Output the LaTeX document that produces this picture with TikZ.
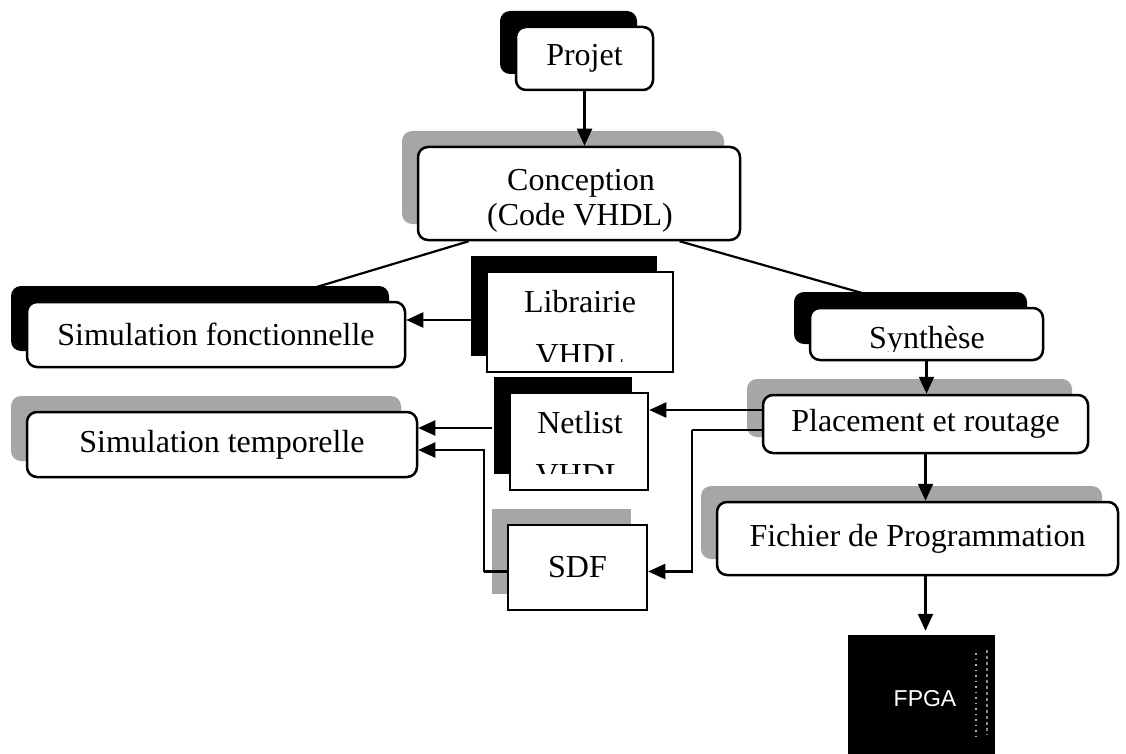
\documentclass[tikz,border=0pt]{standalone}
\usepackage{fontspec}
\setmainfont{Liberation Serif}
\newfontfamily\fpgafont{Liberation Sans}
\usetikzlibrary{arrows.meta,shadows,calc}
\begin{document}
\begin{tikzpicture}[x=1pt,y=-1pt,
  txt/.style={font=\fontsize{32}{36}\selectfont},
  rbox/.style={draw=black, line width=2.5pt, rounded corners=10pt, fill=white, inner sep=0pt, txt},
  sbox/.style={draw=black, line width=2.5pt, fill=white, inner sep=0pt, txt},
  bshadow/.style={drop shadow={shadow xshift=-16pt, shadow yshift=16pt, fill=black, opacity=1, draw=none}},
  gshadow/.style={drop shadow={shadow xshift=-16pt, shadow yshift=16pt, fill=black!35, opacity=1, draw=none}},
  conn/.style={line width=2.2pt},
  arr/.style={conn, -{Triangle[length=17pt,width=15pt]}},
]
\useasboundingbox[fill=white] (0,0) rectangle (1126,754);

% boxes
\node[rbox,bshadow,minimum width=137pt,minimum height=63pt] (projet) at (584.5,58.5) {Projet};
\node[rbox,gshadow,minimum width=322pt,minimum height=93pt] (concep) at (579,193.5) {};
\node[txt,anchor=base] (concept1) at (581,190) {Conception};
\node[txt,anchor=base] (concept2) at (580,225) {(Code VHDL)};
\node[rbox,bshadow,minimum width=378pt,minimum height=65pt] (simf) at (216,334.5) {Simulation fonctionnelle};
\node[rbox,gshadow,minimum width=390pt,minimum height=65pt] (simt) at (222,444.5) {Simulation temporelle};
\node[sbox,bshadow,minimum width=186pt,minimum height=100pt] (lib) at (580,322) {};
\node[sbox,bshadow,minimum width=138pt,minimum height=97pt] (net) at (579,441.5) {};
\node[sbox,gshadow,minimum width=139pt,minimum height=85pt] (sdf) at (577.5,567.5) {SDF};
\node[rbox,bshadow,minimum width=233pt,minimum height=52pt] (synth) at (926.5,334) {};
\node[rbox,gshadow,minimum width=325pt,minimum height=58pt] (place) at (925.5,424) {Placement et routage};
\node[rbox,gshadow,minimum width=401pt,minimum height=73pt] (fich) at (917.5,538.5) {Fichier de Programmation};
\node[fill=black, minimum width=147pt, minimum height=119pt, inner sep=0pt] (fpga) at (921.5,694.5) {};
\draw[black!30, line width=1.5pt, dash pattern=on 1.5pt off 4pt] (976,653) -- (976,738);
\draw[black!45, line width=2pt, dash pattern=on 3pt off 3pt] (987,650) -- (987,735);
\node[text=white, font=\fpgafont\fontsize{23}{26}\selectfont] (fpgat) at (925,698.5) {FPGA};

% clipped texts
\begin{scope}
\clip ([yshift=12pt]lib.south west) rectangle (lib.north east);
\node[txt,anchor=base] (libt1) at (580,312) {Librairie};
\node[txt,anchor=base] (libt2) at (580,365) {VHDL};
\end{scope}
\begin{scope}
\clip ([yshift=18pt]net.south west) rectangle (net.north east);
\node[txt,anchor=base] (nett1) at (580,433) {Netlist};
\node[txt,anchor=base] (nett2) at (580,485) {VHDL};
\end{scope}
\begin{scope}
\clip ([yshift=10pt]synth.south west) rectangle (synth.north east);
\node[txt,anchor=base] (syt) at (927,348) {Synthèse};
\end{scope}

% connectors
\coordinate (sfin) at (310,289);
\coordinate (syin) at (862,293);
\draw[arr] (projet.south) -- (projet.south |- concep.north);
\draw[conn] ($(concep.south west)!0.16!(concep.south east)$) -- (sfin);
\draw[conn] ($(concep.south west)!0.81!(concep.south east)$) -- (syin);
\coordinate (libL) at ([xshift=-14pt,yshift=2pt]lib.west);
\draw[arr] (libL) -- (libL -| simf.east);
\coordinate (plA) at ([yshift=14pt]place.west);
\draw[arr] (plA) -- (plA -| net.east);
\coordinate (plB) at ([yshift=-6pt]place.west);
\draw[conn] (plB) -- ++(-70,0) coordinate (plC);
\draw[arr] (plC) |- ([yshift=-4pt]sdf.east);
\coordinate (netL) at ([xshift=-17pt,yshift=13.5pt]net.west);
\draw[arr] (netL) -- (netL -| simt.east);
\draw[conn] ([yshift=-4pt]sdf.west) -- ++(-23,0) coordinate (sdfC);
\draw[arr] (sdfC) |- ([yshift=-5.5pt]simt.east);
\draw[arr] (synth.south) -- (synth.south |- place.north);
\draw[arr] (place.south) -- (place.south |- fich.north);
\draw[arr] (fich.south -| place.south) -- ([yshift=4pt]fpga.north -| place.south);
\end{tikzpicture}
\end{document}
